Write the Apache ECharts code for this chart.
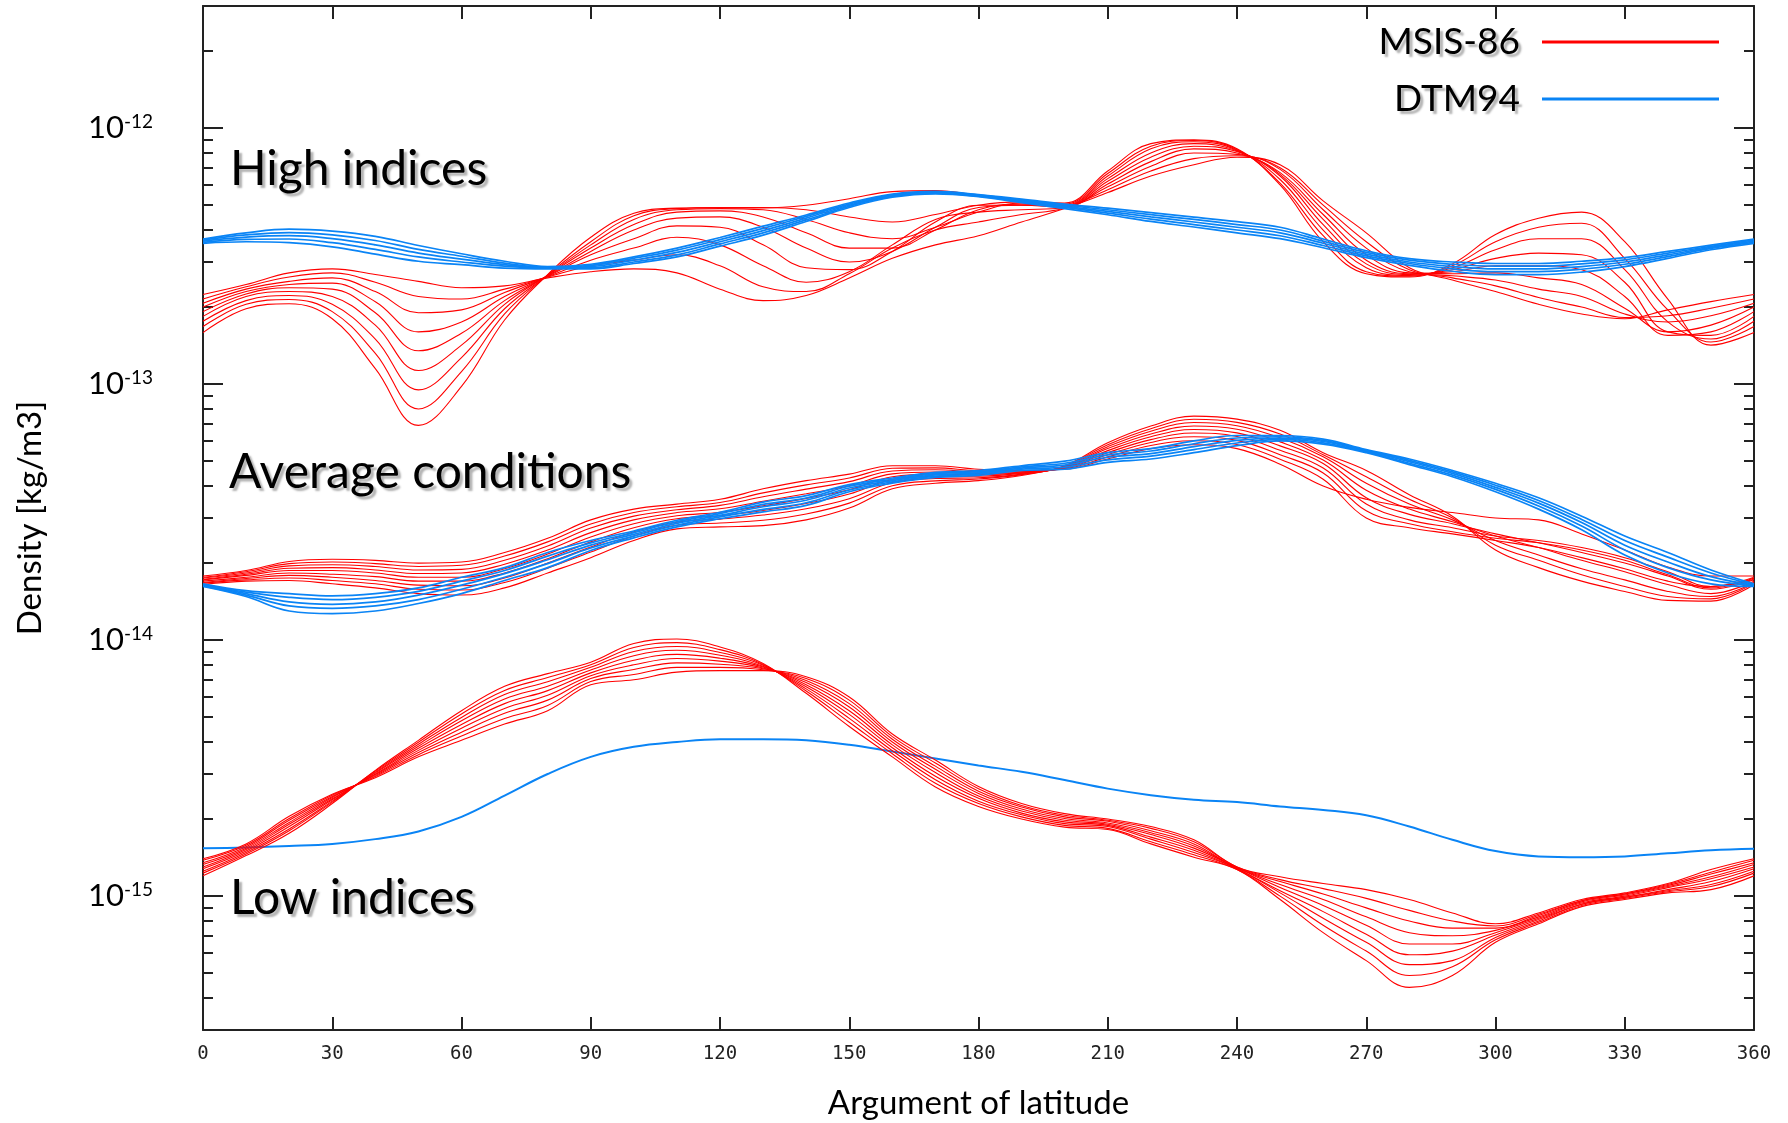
<!DOCTYPE html>
<html>
<head>
<meta charset="utf-8">
<script src="https://cdn.jsdelivr.net/npm/echarts@6/dist/echarts.min.js"></script>
<style>
html,body{margin:0;padding:0;background:#fff;}
#chart{width:1788px;height:1123px;}
</style>
</head>
<body>
<div id="chart"></div>
<script>
// ---------- DATA ----------
// Argument of latitude [deg]
const argLat = [0,10,20,30,40,50,60,70,80,90,100,110,120,130,140,150,160,170,180,190,200,210,220,230,240,250,260,270,280,290,300,310,320,330,340,350,360];

// Units of the arrays below (kg/m3)
const HIGH_UNIT = 1e-13;
const AVG_UNIT = 1e-14;
const LOW_UNIT = 1e-15;

// High indices, MSIS-86 (x 1e-13)
const highMsis = [
 [2.24,2.45,2.72,2.82,2.68,2.52,2.38,2.42,2.6,2.75,2.82,2.72,2.35,2.12,2.22,2.6,3.1,3.5,3.8,4.3,4.85,5.6,6.5,7.2,7.7,7.2,5.2,3.9,2.85,2.55,2.3,2.05,1.88,1.8,1.95,2.1,2.24],
 [2.15,2.4,2.62,2.72,2.5,2.2,2.15,2.35,2.62,2.9,3.05,3.2,2.9,2.4,2.3,2.7,3.4,4.0,4.3,4.6,4.88,5.75,6.8,7.6,7.8,7.0,5.0,3.6,2.8,2.6,2.42,2.18,2.0,1.82,1.85,1.98,2.15],
 [2.07,2.35,2.52,2.6,2.3,1.9,1.95,2.28,2.63,3.05,3.4,3.75,3.5,2.9,2.5,2.75,3.5,4.4,4.7,4.8,4.9,5.9,7.1,8.0,7.9,6.9,4.8,3.4,2.75,2.65,2.55,2.35,2.2,1.88,1.75,1.85,2.07],
 [2.0,2.3,2.45,2.48,2.1,1.6,1.75,2.2,2.64,3.2,3.7,4.15,4.1,3.5,2.85,2.8,3.3,4.3,5.0,5.0,4.92,6.05,7.4,8.3,8.0,6.7,4.6,3.2,2.72,2.7,2.72,2.6,2.45,1.98,1.6,1.7,2.0],
 [1.92,2.25,2.38,2.35,1.9,1.35,1.58,2.12,2.65,3.3,4.0,4.45,4.5,4.1,3.4,3.0,3.3,4.1,4.9,5.0,4.95,6.2,7.7,8.5,8.1,6.6,4.4,3.05,2.7,2.75,2.9,2.9,2.8,2.2,1.55,1.6,1.92],
 [1.84,2.2,2.3,2.2,1.7,1.13,1.42,2.05,2.66,3.4,4.2,4.7,4.75,4.5,3.9,3.4,3.4,4.0,4.8,5.05,4.98,6.35,8.0,8.7,8.15,6.5,4.2,2.95,2.68,2.8,3.1,3.25,3.2,2.5,1.6,1.55,1.84],
 [1.76,2.12,2.22,2.05,1.5,0.95,1.27,1.97,2.66,3.5,4.4,4.8,4.85,4.8,4.4,3.9,3.7,4.1,4.7,5.1,5.0,6.5,8.3,8.85,8.2,6.3,4.0,2.85,2.66,2.85,3.35,3.7,3.7,2.8,1.75,1.5,1.76],
 [1.68,2.05,2.14,1.92,1.32,0.8,1.12,1.88,2.67,3.6,4.55,4.85,4.9,4.9,4.8,4.5,4.3,4.6,5.0,5.15,5.05,6.65,8.5,8.95,8.25,6.1,3.8,2.75,2.64,2.9,3.6,4.1,4.25,3.1,1.95,1.46,1.68],
 [1.59,1.97,2.06,1.8,1.15,0.69,0.98,1.78,2.68,3.75,4.65,4.87,4.9,4.88,5.0,5.3,5.65,5.7,5.45,5.18,5.1,6.8,8.7,9.0,8.3,6.0,3.6,2.7,2.62,2.95,3.84,4.45,4.7,3.6,2.15,1.42,1.59]
];

// High indices, DTM94 (x 1e-13)
const highDtm = [
 [3.69,3.9,4.03,3.96,3.78,3.48,3.23,3.02,2.88,2.94,3.14,3.4,3.74,4.14,4.58,5.1,5.53,5.66,5.5,5.28,5.05,4.87,4.68,4.49,4.31,4.1,3.69,3.32,3.09,3.0,2.96,2.96,3.02,3.12,3.3,3.49,3.69],
 [3.66,3.83,3.91,3.83,3.64,3.36,3.16,2.97,2.86,2.91,3.1,3.34,3.67,4.06,4.52,5.05,5.49,5.63,5.48,5.24,5.0,4.8,4.59,4.4,4.2,4.0,3.62,3.27,3.05,2.94,2.89,2.89,2.95,3.06,3.25,3.45,3.66],
 [3.62,3.75,3.8,3.7,3.5,3.25,3.08,2.93,2.85,2.88,3.05,3.27,3.6,3.98,4.45,5.0,5.45,5.6,5.45,5.2,4.95,4.73,4.5,4.3,4.1,3.9,3.55,3.22,3.0,2.88,2.82,2.82,2.88,3.0,3.2,3.42,3.62],
 [3.58,3.68,3.69,3.57,3.36,3.14,3.0,2.89,2.84,2.85,3.0,3.2,3.53,3.9,4.38,4.95,5.41,5.57,5.42,5.16,4.9,4.66,4.41,4.2,4.0,3.8,3.48,3.17,2.96,2.82,2.75,2.75,2.81,2.94,3.15,3.39,3.58],
 [3.55,3.6,3.57,3.44,3.22,3.02,2.93,2.84,2.82,2.82,2.96,3.14,3.46,3.82,4.32,4.9,5.37,5.54,5.4,5.12,4.85,4.59,4.32,4.11,3.9,3.7,3.41,3.12,2.91,2.76,2.68,2.68,2.74,2.88,3.1,3.35,3.55]
];

// Average conditions, MSIS-86 (x 1e-14)
const avgMsis = [
 [1.78,1.87,2.03,2.07,2.05,2.0,2.02,2.2,2.5,2.95,3.25,3.4,3.55,3.9,4.2,4.45,4.8,4.8,4.65,4.6,4.65,5.1,5.6,5.8,5.6,4.87,4.0,3.55,3.3,3.15,3.0,2.95,2.6,2.25,1.93,1.78,1.78],
 [1.76,1.85,1.99,2.02,1.99,1.94,1.96,2.13,2.42,2.84,3.15,3.32,3.45,3.76,4.04,4.3,4.69,4.71,4.59,4.58,4.67,5.2,5.76,6.01,5.81,5.09,4.25,3.0,2.75,2.6,2.45,2.3,2.1,1.9,1.7,1.62,1.76],
 [1.75,1.83,1.95,1.97,1.94,1.88,1.89,2.05,2.33,2.74,3.05,3.23,3.36,3.63,3.89,4.16,4.58,4.63,4.54,4.55,4.69,5.3,5.92,6.23,6.03,5.3,4.5,3.2,2.85,2.65,2.5,2.4,2.25,2.05,1.8,1.6,1.75],
 [1.73,1.81,1.91,1.92,1.88,1.82,1.83,1.98,2.25,2.63,2.95,3.15,3.26,3.49,3.73,4.01,4.46,4.54,4.48,4.53,4.71,5.4,6.07,6.44,6.24,5.52,4.7,3.4,2.95,2.75,2.55,2.45,2.3,2.1,1.85,1.62,1.73],
 [1.72,1.79,1.87,1.87,1.83,1.76,1.76,1.9,2.17,2.53,2.85,3.06,3.16,3.35,3.58,3.87,4.35,4.45,4.43,4.5,4.73,5.5,6.23,6.65,6.45,5.74,4.9,3.6,3.1,2.85,2.6,2.4,2.2,2.0,1.78,1.58,1.72],
 [1.70,1.76,1.83,1.81,1.77,1.70,1.70,1.83,2.08,2.42,2.75,2.98,3.06,3.21,3.42,3.72,4.24,4.36,4.37,4.48,4.74,5.6,6.39,6.86,6.66,5.95,5.05,3.85,3.25,2.9,2.55,2.3,2.05,1.85,1.65,1.52,1.70],
 [1.68,1.74,1.79,1.76,1.71,1.64,1.63,1.75,2.0,2.31,2.65,2.89,2.97,3.08,3.26,3.57,4.13,4.28,4.31,4.45,4.76,5.7,6.55,7.08,6.88,6.17,5.2,4.1,3.4,2.95,2.45,2.15,1.9,1.72,1.55,1.48,1.68],
 [1.67,1.72,1.75,1.71,1.66,1.58,1.57,1.68,1.91,2.21,2.55,2.81,2.87,2.94,3.11,3.43,4.01,4.19,4.26,4.43,4.78,5.8,6.7,7.29,7.09,6.38,5.3,4.35,3.55,3.0,2.35,2.05,1.8,1.62,1.48,1.45,1.67],
 [1.65,1.70,1.71,1.66,1.60,1.52,1.50,1.6,1.83,2.1,2.45,2.72,2.77,2.8,2.95,3.28,3.9,4.1,4.2,4.4,4.8,5.9,6.86,7.5,7.3,6.6,5.4,4.6,3.7,3.05,2.25,1.92,1.7,1.55,1.43,1.42,1.65]
];

// Average conditions, DTM94 (x 1e-14)
const avgDtm = [
 [1.66,1.56,1.52,1.49,1.52,1.6,1.76,1.92,2.2,2.45,2.67,2.94,3.16,3.46,3.67,4.05,4.3,4.52,4.6,4.8,5.0,5.4,5.6,6.0,6.3,6.3,6.1,5.55,5.1,4.6,4.1,3.6,3.05,2.55,2.2,1.88,1.66],
 [1.65,1.54,1.47,1.44,1.47,1.55,1.7,1.87,2.13,2.4,2.63,2.9,3.12,3.39,3.59,3.99,4.25,4.47,4.55,4.75,4.91,5.29,5.48,5.85,6.16,6.23,6.03,5.51,5.04,4.54,4.03,3.51,2.96,2.45,2.11,1.83,1.65],
 [1.64,1.52,1.41,1.38,1.41,1.5,1.64,1.82,2.06,2.35,2.59,2.86,3.07,3.32,3.52,3.93,4.2,4.42,4.5,4.7,4.83,5.18,5.35,5.7,6.03,6.15,5.97,5.48,4.98,4.48,3.95,3.43,2.88,2.35,2.02,1.77,1.64],
 [1.63,1.5,1.36,1.33,1.36,1.44,1.58,1.76,1.99,2.29,2.55,2.81,3.03,3.24,3.44,3.86,4.15,4.37,4.45,4.65,4.74,5.06,5.23,5.55,5.89,6.08,5.9,5.44,4.91,4.41,3.88,3.34,2.79,2.25,1.92,1.72,1.63],
 [1.62,1.48,1.3,1.27,1.3,1.39,1.52,1.71,1.92,2.24,2.51,2.77,2.98,3.17,3.36,3.8,4.1,4.32,4.4,4.6,4.65,4.95,5.1,5.4,5.75,6.0,5.83,5.4,4.85,4.35,3.8,3.25,2.7,2.15,1.83,1.66,1.62]
];

// Low indices, MSIS-86 (x 1e-15)
const lowMsis = [
 [1.4,1.6,2.05,2.5,2.9,3.5,4.06,4.7,5.3,6.7,7.0,7.5,7.6,7.6,7.2,6.0,4.3,3.4,2.68,2.3,2.1,2.0,1.87,1.66,1.3,1.19,1.12,1.06,0.97,0.86,0.78,0.86,0.97,1.03,1.12,1.27,1.4],
 [1.38,1.58,2.01,2.48,2.93,3.57,4.22,4.94,5.56,6.89,7.34,7.83,7.83,7.66,7.08,5.83,4.2,3.31,2.63,2.26,2.07,1.98,1.84,1.63,1.3,1.16,1.07,0.98,0.88,0.8,0.765,0.85,0.96,1.02,1.11,1.24,1.38],
 [1.35,1.56,1.98,2.45,2.95,3.64,4.37,5.18,5.83,7.08,7.68,8.15,8.05,7.73,6.95,5.65,4.1,3.22,2.57,2.23,2.04,1.96,1.8,1.6,1.29,1.14,1.02,0.9,0.8,0.75,0.75,0.84,0.96,1.02,1.1,1.22,1.35],
 [1.33,1.54,1.94,2.43,2.98,3.71,4.53,5.41,6.09,7.26,8.01,8.48,8.28,7.79,6.83,5.48,4.0,3.13,2.52,2.19,2.01,1.93,1.77,1.57,1.29,1.11,0.97,0.83,0.72,0.7,0.735,0.83,0.95,1.01,1.09,1.19,1.33],
 [1.3,1.52,1.91,2.4,3.0,3.78,4.68,5.65,6.35,7.45,8.35,8.8,8.5,7.85,6.7,5.3,3.9,3.04,2.46,2.15,1.98,1.91,1.74,1.54,1.29,1.08,0.92,0.77,0.65,0.65,0.72,0.82,0.94,1.0,1.08,1.17,1.3],
 [1.28,1.5,1.87,2.38,3.03,3.85,4.84,5.89,6.61,7.64,8.69,9.13,8.73,7.91,6.58,5.13,3.8,2.94,2.41,2.11,1.95,1.89,1.7,1.51,1.28,1.05,0.87,0.71,0.59,0.61,0.705,0.81,0.93,0.99,1.06,1.14,1.28],
 [1.25,1.48,1.83,2.35,3.05,3.92,4.99,6.13,6.88,7.83,9.03,9.45,8.95,7.98,6.45,4.95,3.7,2.85,2.35,2.08,1.92,1.87,1.67,1.48,1.28,1.03,0.82,0.66,0.54,0.56,0.69,0.8,0.93,0.99,1.05,1.11,1.25],
 [1.23,1.46,1.8,2.33,3.08,3.99,5.15,6.36,7.14,8.01,9.36,9.78,9.18,8.04,6.33,4.78,3.6,2.76,2.3,2.04,1.89,1.84,1.63,1.45,1.27,1.0,0.77,0.61,0.49,0.53,0.675,0.79,0.92,0.98,1.04,1.09,1.23],
 [1.2,1.44,1.76,2.3,3.1,4.06,5.3,6.6,7.4,8.2,9.7,10.1,9.4,8.1,6.2,4.6,3.5,2.67,2.24,2.0,1.86,1.82,1.6,1.42,1.27,0.97,0.72,0.56,0.44,0.49,0.66,0.78,0.91,0.97,1.03,1.06,1.2]
];

// Low indices, DTM94 (x 1e-15)
const lowDtm = [
 [1.54,1.55,1.57,1.6,1.67,1.79,2.04,2.47,3.0,3.5,3.83,4.0,4.1,4.1,4.06,3.9,3.67,3.45,3.24,3.06,2.84,2.63,2.48,2.38,2.33,2.24,2.17,2.07,1.87,1.66,1.5,1.43,1.42,1.43,1.47,1.51,1.53]
];

// Axis ticks
const xTickStep = 30;
const Y_MIN = 3e-16, Y_MAX = 3e-12;
const yMajorTicks = [1e-15, 1e-14, 1e-13, 1e-12];
const yMinorTicks = [4e-16,5e-16,6e-16,7e-16,8e-16,9e-16,
  2e-15,3e-15,4e-15,5e-15,6e-15,7e-15,8e-15,9e-15,
  2e-14,3e-14,4e-14,5e-14,6e-14,7e-14,8e-14,9e-14,
  2e-13,3e-13,4e-13,5e-13,6e-13,7e-13,8e-13,9e-13,
  2e-12];

const legendNames = ['MSIS-86', 'DTM94'];
const regionLabels = ['High indices', 'Average conditions', 'Low indices'];

// ---------- CHART ----------
const RED = '#ff0000';
const BLUE = '#0a84f5';
const AXIS = '#222';
const SHADOW = {textShadowColor:'rgba(0,0,0,0.3)', textShadowOffsetX:3, textShadowOffsetY:3, textShadowBlur:2};

function makeSeries(name, lines, unit, color, width, z) {
  return lines.map(arr => ({
    type: 'line', name: name,
    data: argLat.map((x, i) => [x, arr[i] * unit]),
    showSymbol: false, symbol: 'none', smooth: 0.4,
    lineStyle: {color: color, width: width},
    itemStyle: {color: color},
    silent: true, z: z
  }));
}

const series = [].concat(
  makeSeries('MSIS-86', highMsis, HIGH_UNIT, RED, 1.1, 3),
  makeSeries('DTM94', highDtm, HIGH_UNIT, BLUE, 1.7, 4),
  makeSeries('MSIS-86', avgMsis, AVG_UNIT, RED, 1.1, 3),
  makeSeries('DTM94', avgDtm, AVG_UNIT, BLUE, 1.7, 4),
  makeSeries('DTM94', lowDtm, LOW_UNIT, BLUE, 2, 2),
  makeSeries('MSIS-86', lowMsis, LOW_UNIT, RED, 1.1, 3)
);

function expLabel(v) {
  const e = Math.round(Math.log10(v));
  return '{b|10}{s|-' + Math.abs(e) + '}';
}

const yCommon = {
  type: 'log', logBase: 10, min: Y_MIN, max: Y_MAX, gridIndex: 0,
  splitLine: {show: false}, minorTick: {show: false}, minorSplitLine: {show: false}
};

const option = {
  animation: false,
  backgroundColor: '#fff',
  grid: {left: 203, top: 6, right: 34, bottom: 93, containLabel: false, outerBoundsMode: 'none'},
  legend: {
    data: legendNames, orient: 'vertical', right: 69, top: 17, padding: 0, align: 'right',
    icon: 'rect', itemWidth: 177, itemHeight: 3, itemGap: 7, selectedMode: false,
    textStyle: Object.assign({fontFamily: 'Lato', fontSize: 37, color: '#000', lineHeight: 40, padding: [10, 17, 0, 0]}, SHADOW)
  },
  xAxis: [
    {
      type: 'value', min: 0, max: 360, interval: xTickStep, position: 'bottom',
      axisLine: {show: true, onZero: false, lineStyle: {color: AXIS, width: 2}},
      axisTick: {show: true, inside: true, length: 13, lineStyle: {color: AXIS, width: 2}},
      axisLabel: {show: true, margin: 15, fontFamily: 'DejaVu Sans Mono', fontSize: 19, color: '#222'},
      splitLine: {show: false},
      name: 'Argument of latitude', nameLocation: 'middle', nameGap: 57,
      nameTextStyle: {fontFamily: 'Lato', fontSize: 33, color: '#000'}
    },
    {
      type: 'value', min: 0, max: 360, interval: xTickStep, position: 'top',
      axisLine: {show: true, onZero: false, lineStyle: {color: AXIS, width: 2}},
      axisTick: {show: true, inside: true, length: 13, lineStyle: {color: AXIS, width: 2}},
      axisLabel: {show: false}, splitLine: {show: false}
    }
  ],
  yAxis: [
    Object.assign({}, yCommon, {
      position: 'left',
      axisLine: {show: true, onZero: false, lineStyle: {color: AXIS, width: 2}},
      axisTick: {show: true, inside: true, length: 20, customValues: yMajorTicks, lineStyle: {color: AXIS, width: 2}},
      axisLabel: {
        show: true, customValues: yMajorTicks, margin: 50, formatter: expLabel,
        rich: {
          b: {fontFamily: 'Lato', fontSize: 31, color: '#000'},
          s: {fontFamily: 'Lato', fontSize: 19, color: '#000', verticalAlign: 'top'}
        }
      },
      name: 'Density [kg/m3]', nameLocation: 'middle', nameGap: 156, nameRotate: 90,
      nameTextStyle: {fontFamily: 'Lato', fontSize: 33, color: '#000'}
    }),
    Object.assign({}, yCommon, {
      position: 'left',
      axisLine: {show: false, onZero: false},
      axisTick: {show: true, inside: true, length: 10, customValues: yMinorTicks, lineStyle: {color: AXIS, width: 2}},
      axisLabel: {show: false}
    }),
    Object.assign({}, yCommon, {
      position: 'right',
      axisLine: {show: true, onZero: false, lineStyle: {color: AXIS, width: 2}},
      axisTick: {show: true, inside: true, length: 20, customValues: yMajorTicks, lineStyle: {color: AXIS, width: 2}},
      axisLabel: {show: false}
    }),
    Object.assign({}, yCommon, {
      position: 'right',
      axisLine: {show: false, onZero: false},
      axisTick: {show: true, inside: true, length: 10, customValues: yMinorTicks, lineStyle: {color: AXIS, width: 2}},
      axisLabel: {show: false}
    })
  ],
  graphic: [
    {type: 'text', x: 230, y: 170, z: 10, style: Object.assign({text: regionLabels[0], fontFamily: 'Lato', fontSize: 48, fill: '#000', verticalAlign: 'middle'}, SHADOW)},
    {type: 'text', x: 229, y: 473, z: 10, style: Object.assign({text: regionLabels[1], fontFamily: 'Lato', fontSize: 48, fill: '#000', verticalAlign: 'middle'}, SHADOW)},
    {type: 'text', x: 230, y: 899, z: 10, style: Object.assign({text: regionLabels[2], fontFamily: 'Lato', fontSize: 48, fill: '#000', verticalAlign: 'middle'}, SHADOW)}
  ],
  series: series
};

const chart = echarts.init(document.getElementById('chart'), null, {renderer: 'canvas'});
chart.setOption(option);
</script>
</body>
</html>
